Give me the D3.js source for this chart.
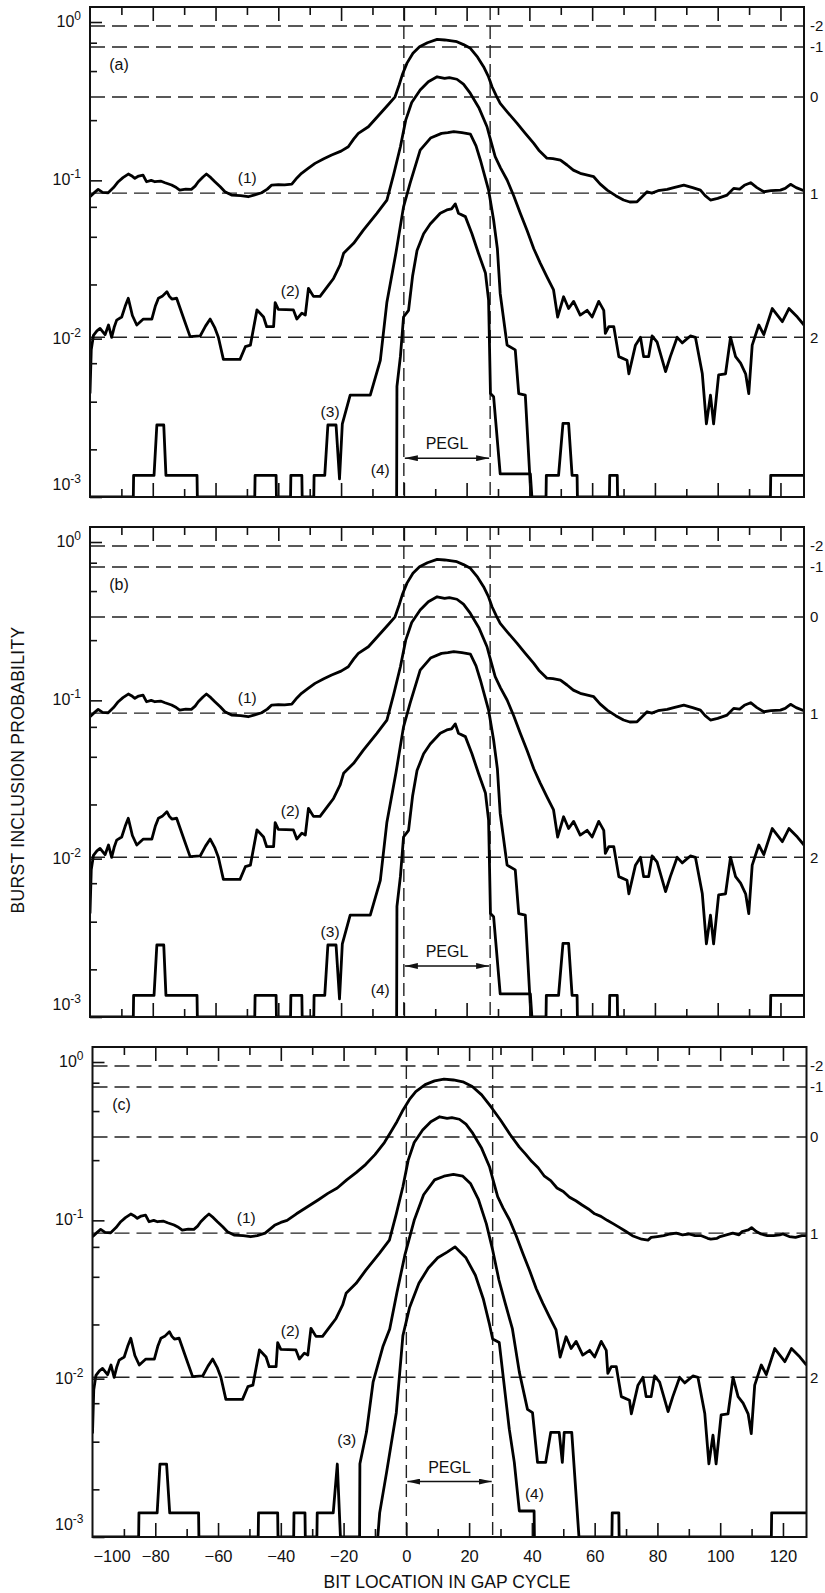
<!DOCTYPE html>
<html>
<head>
<meta charset="utf-8">
<script src="https://cdn.jsdelivr.net/npm/d3@7"></script>
<style>
  body { margin: 0; background: #fff; }
  text { font-family: "Liberation Sans", Arial, sans-serif; fill: #111; }
</style>
</head>
<body>
<svg id="chart"></svg>
<script>
// ---- data ----
const panelNames = ["(a)", "(b)", "(c)"];
const xTickLabels = [-100, -80, -60, -40, -20, 0, 20, 40, 60, 80, 100, 120];
const xMinorTicks = [-90, -70, -50, -30, -10, 10, 30, 50, 70, 90, 110];
const xMajorTicks = [-80, -60, -40, -20, 0, 20, 40, 60, 80, 100, 120];
const yDecades = [1, 0.1, 0.01, 0.001];
const yDecadeExp = ["0", "-1", "-2", "-3"];
const yMinorTicks = [0.74, 0.49, 0.24, 0.068, 0.044, 0.022, 0.007, 0.004, 0.002];
const levelValues = [0.944, 0.695, 0.336, 0.083, 0.0102];
const levelLabels = ["-2", "-1", "0", "1", "2"];
const peglBounds = [0, 27.5];
const peglLevel = [0.00176, 0.0021, 0.00224];

// curve (1), [bit location, probability]
const curve1 = [[-100,0.0788],[-98.8,0.083],[-97.4,0.0877],[-96,0.084],[-94.2,0.0835],[-92.5,0.09],[-91,0.098],[-89.5,0.104],[-87.8,0.1096],[-86.5,0.106],[-85.7,0.103],[-84.5,0.1065],[-83.1,0.108],[-82,0.098],[-80.5,0.1],[-79.3,0.098],[-77.5,0.099],[-76.1,0.0966],[-74,0.0934],[-72.5,0.09],[-71.4,0.0868],[-69.5,0.088],[-67.7,0.0877],[-66.5,0.092],[-65.5,0.098],[-64,0.105],[-62.9,0.1096],[-61.5,0.104],[-60.2,0.098],[-58.5,0.091],[-57,0.0847],[-54.9,0.0807],[-52,0.08],[-49.6,0.0788],[-47.5,0.081],[-45.3,0.0835],[-43.5,0.088],[-42.1,0.0934],[-40,0.094],[-38,0.0935],[-35.7,0.0947],[-34,0.104],[-32.6,0.1107],[-30.5,0.119],[-28.3,0.128],[-25.5,0.137],[-23,0.1445],[-20,0.153],[-17.7,0.163],[-16,0.182],[-14.5,0.198],[-11.3,0.218],[-9,0.245],[-7,0.271],[-5,0.3],[-2.8,0.337],[-1.5,0.4],[-0.4,0.47],[1,0.55],[2.9,0.634],[5,0.698],[7.5,0.74],[10.6,0.777],[13,0.77],[16.9,0.751],[19,0.72],[21.2,0.682],[23.5,0.6],[25.4,0.522],[27,0.45],[28.1,0.39],[29.5,0.34],[30.7,0.306],[33,0.27],[36.1,0.229],[38.5,0.2],[41.4,0.171],[43,0.155],[45.6,0.138],[47.5,0.137],[49.9,0.134],[52,0.125],[54,0.116],[56.2,0.1107],[58.5,0.108],[60.5,0.1054],[62.5,0.095],[64.8,0.0868],[67.5,0.08],[70,0.0751],[72,0.073],[74.3,0.0732],[76,0.079],[77.5,0.0847],[79,0.083],[81,0.086],[83.9,0.0877],[86,0.09],[89.2,0.0934],[92,0.09],[94.5,0.0868],[96,0.08],[97.7,0.0751],[100,0.077],[103,0.0807],[105.1,0.089],[107,0.088],[108.5,0.093],[110.5,0.0966],[112.5,0.09],[114.7,0.0847],[117,0.086],[120,0.0868],[121.5,0.089],[123.2,0.0944],[125,0.09],[127.5,0.086]];

// curve (1), panel (c): broader shoulders
const curve1c = [[-100,0.0788],[-98.8,0.083],[-97.4,0.0877],[-96,0.084],[-94.2,0.0835],[-92.5,0.09],[-91,0.098],[-89.5,0.104],[-87.8,0.1096],[-86.5,0.106],[-85.7,0.103],[-84.5,0.1065],[-83.1,0.108],[-82,0.098],[-80.5,0.1],[-79.3,0.098],[-77.5,0.099],[-76.1,0.0966],[-74,0.0934],[-72.5,0.09],[-71.4,0.0868],[-69.5,0.088],[-67.7,0.0877],[-66.5,0.092],[-65.5,0.098],[-64,0.105],[-62.9,0.1096],[-61.5,0.104],[-60.2,0.098],[-58.5,0.091],[-57,0.0847],[-54.9,0.0807],[-52,0.08],[-49.6,0.0788],[-47.5,0.08],[-45,0.083],[-42,0.093],[-40,0.097],[-38,0.1],[-35,0.11],[-32,0.12],[-28,0.135],[-25,0.148],[-22,0.16],[-19,0.18],[-16,0.2],[-13,0.225],[-10,0.26],[-7,0.31],[-5,0.36],[-3,0.42],[-1,0.5],[1,0.58],[3,0.65],[6,0.72],[9,0.76],[12,0.78],[15,0.77],[18,0.75],[21,0.7],[24,0.62],[27,0.52],[30,0.43],[33,0.35],[36,0.29],[38,0.262],[40,0.235],[42,0.215],[44,0.19],[46,0.178],[48,0.16],[50,0.152],[52,0.14],[54,0.133],[56,0.125],[58,0.118],[60,0.11],[62,0.106],[64,0.1],[66,0.095],[68,0.09],[70,0.085],[72,0.08],[75,0.076],[77,0.075],[78,0.078],[80,0.079],[82,0.08],[84,0.082],[86,0.083],[88,0.081],[90,0.082],[92,0.08],[94,0.08],[96,0.077],[97,0.076],[99,0.077],[100,0.079],[102,0.081],[104,0.083],[106,0.081],[107,0.085],[109,0.087],[110,0.09],[111.5,0.085],[113,0.082],[115,0.08],[117,0.08],[119,0.081],[120,0.082],[122,0.079],[124,0.078],[126,0.08],[127.5,0.08]];

// curve (2)
const curve2 = [[-100,0.0045],[-99.6,0.0085],[-98.9,0.0105],[-97.8,0.0112],[-96.8,0.0116],[-95.2,0.0106],[-94.1,0.0122],[-93.1,0.0102],[-92.3,0.0118],[-91.5,0.0131],[-89.9,0.0137],[-88.8,0.016],[-87.8,0.018],[-86.5,0.014],[-85.1,0.0122],[-83,0.0133],[-80.3,0.0133],[-79.2,0.016],[-78.2,0.018],[-77,0.0185],[-75.5,0.0198],[-74.7,0.0185],[-73.9,0.0178],[-72.4,0.018],[-70.2,0.0135],[-68.1,0.0103],[-64.9,0.0104],[-63.2,0.012],[-61.7,0.0133],[-60.3,0.0118],[-59.1,0.0102],[-57.5,0.0074],[-52.2,0.0074],[-50.5,0.0089],[-48.9,0.0091],[-46.8,0.0152],[-44.7,0.0137],[-43.7,0.0119],[-41.5,0.0119],[-41,0.0169],[-40,0.0153],[-35.2,0.0152],[-34.1,0.0133],[-32.5,0.0145],[-31.4,0.0141],[-30.4,0.0208],[-28.8,0.0185],[-26.7,0.0185],[-24,0.0218],[-22.4,0.024],[-20.3,0.0292],[-19.2,0.0346],[-16,0.04],[-12.9,0.0485],[-8.6,0.0619],[-5.4,0.075],[-3.2,0.11],[-1.1,0.163],[0.6,0.24],[2.5,0.31],[5.2,0.372],[7.8,0.42],[10.6,0.451],[13,0.44],[14.5,0.445],[16.9,0.435],[19,0.405],[21.2,0.354],[24,0.285],[26.5,0.218],[27.8,0.175],[29.1,0.141],[30.8,0.12],[32.9,0.1005],[35,0.08],[37.1,0.0619],[39.3,0.048],[41.4,0.037],[43.5,0.0299],[45.6,0.0246],[47.7,0.0203],[49,0.0137],[50.9,0.0184],[52.5,0.0155],[54.1,0.0172],[56.2,0.0141],[58.4,0.0151],[60,0.0137],[62.1,0.0172],[63.7,0.0151],[64.2,0.0108],[65.3,0.0119],[66.9,0.0119],[68.5,0.0077],[71.1,0.0073],[71.7,0.006],[73.8,0.0091],[75.4,0.0102],[76.4,0.0077],[78,0.0077],[79.1,0.0104],[80.7,0.0095],[83.4,0.0062],[84.9,0.0077],[87.1,0.0102],[88.7,0.0094],[91.3,0.0104],[92.9,0.0102],[95.1,0.006],[96.4,0.0029],[97.7,0.0044],[98.7,0.0029],[100.3,0.0059],[102.5,0.006],[104.1,0.0102],[105.7,0.0077],[107.3,0.007],[108.9,0.006],[109.9,0.0045],[111,0.0091],[113.1,0.0122],[114.7,0.0106],[117.4,0.0155],[119,0.0141],[120.6,0.0128],[122.7,0.0155],[125.4,0.0137],[127.5,0.0122]];

// curve (3), panels (a) and (b); 0 = no count (drawn on the axis)
const curve3ab = [[-100,0],[-86.2,0],[-86.1,0.00137],[-79.6,0.00137],[-78.7,0.00285],[-76.5,0.00285],[-75.8,0.00137],[-65.9,0.00137],[-65.8,0],[-47.5,0],[-47.4,0.00137],[-40.7,0.00137],[-40.6,0],[-36.1,0],[-36,0.00137],[-32.5,0.00137],[-32.4,0],[-28.7,0],[-28.6,0.00137],[-25.2,0.00137],[-24.2,0.00285],[-21.6,0.00285],[-20.5,0.0013],[-19.6,0.0029],[-17.1,0.0044],[-10.7,0.0044],[-7.5,0.0073],[-5.4,0.017],[-2.5,0.035],[-0.1,0.068],[2,0.096],[5.2,0.155],[8.5,0.185],[12,0.198],[14,0.2],[15.9,0.203],[18.5,0.2],[21.2,0.196],[23,0.165],[24.4,0.134],[27,0.0868],[28.6,0.0562],[29.8,0.037],[30.7,0.0193],[32.9,0.0091],[35.5,0.0085],[36.6,0.0045],[38.7,0.0044],[40.5,0],[45.3,0],[45.4,0.00137],[49.3,0.00137],[50.7,0.00292],[52.5,0.00292],[53.6,0.00137],[55.2,0.00137],[55.3,0],[65.5,0],[65.6,0.00137],[68,0.00137],[68.1,0],[116.8,0],[116.9,0.00137],[127.5,0.00137]];

// curve (4), panels (a) and (b)
const curve4ab = [[-2.3,0],[-2.2,0.005],[-1.1,0.0077],[-0.1,0.0137],[1.5,0.0151],[2.8,0.025],[4.2,0.036],[6.3,0.046],[8.4,0.053],[11.6,0.062],[13.7,0.065],[15.2,0.066],[16.4,0.071],[17.4,0.062],[19.6,0.059],[21.7,0.046],[23.8,0.0345],[26,0.026],[27,0.0175],[27.6,0.0045],[28.6,0.0043],[30.7,0.0014],[40.3,0.0014],[40.8,0]];

// curve (3), panel (c)
const curve3c = [[-100,0],[-85.3,0],[-85.2,0.00142],[-79.4,0.00142],[-78.5,0.00289],[-76.4,0.00289],[-75.4,0.00142],[-66.2,0.00142],[-66.1,0],[-47.2,0],[-47.1,0.00142],[-41,0.00142],[-40.9,0],[-35.9,0],[-35.8,0.00142],[-32.3,0.00142],[-32.2,0],[-28.5,0],[-28.4,0.00142],[-23.3,0.00142],[-22,0.00289],[-21,0],[-14.9,0],[-14.8,0.0029],[-12.7,0.0046],[-10.6,0.0095],[-7.4,0.0161],[-5.3,0.0206],[-3,0.035],[-0.5,0.06],[2.5,0.1],[5.5,0.145],[9,0.18],[12,0.19],[15,0.195],[18,0.19],[20.5,0.17],[23,0.135],[25.5,0.095],[27.5,0.065],[29.5,0.042],[31.5,0.03],[33.8,0.0206],[36,0.011],[38.6,0.0064],[40.2,0.0061],[41.8,0.00296],[44.4,0.00296],[46,0.00458],[48.7,0.00458],[49.7,0.00296],[50.3,0.00458],[52.7,0.00458],[55,0],[65.5,0],[65.6,0.00142],[67.7,0.00142],[67.8,0],[116.3,0],[116.4,0.00142],[127.5,0.00142]];

// curve (4), panel (c)
const curve4c = [[-9.1,0],[-8.5,0.00142],[-6.3,0.00256],[-3.2,0.0061],[-1.1,0.0187],[1,0.028],[4,0.04],[7,0.05],[10,0.058],[13,0.063],[15.5,0.068],[16.5,0.065],[19,0.058],[22,0.045],[24.5,0.032],[26.5,0.022],[27.5,0.0178],[29.6,0.0169],[32.8,0.0048],[34.4,0.00296],[36,0.00146],[40.7,0.00146],[40.8,0]];

const panelCurves = [
  [curve1, curve2, curve3ab, curve4ab],
  [curve1, curve2, curve3ab, curve4ab],
  [curve1c, curve2, curve3c, curve4c]
];
const curveNames = ["(1)", "(2)", "(3)", "(4)"];
// label anchor points [bit location, probability]
const labelsAB = [[-49.9,0.1034],[-36.2,0.0201],[-23.5,0.00345],[-7.5,0.00148]];
const labelsC = [[-51,0.1034],[-37,0.0201],[-19,0.00415],[40.8,0.00187]];
const panelLabelPos = [labelsAB, labelsAB, labelsC];

// ---- layout ----
const W = 825, H = 1593;
const panelTop = [7, 527, 1047];
const panelLeft = [90, 90, 92.5];
const panelW = 714, panelH = 490;

const svg = d3.select("#chart").attr("width", W).attr("height", H);

const defs = svg.append("defs");
defs.append("marker")
    .attr("id", "arrow")
    .attr("viewBox", "0 0 13 6")
    .attr("refX", 13).attr("refY", 3)
    .attr("markerWidth", 13).attr("markerHeight", 6)
    .attr("markerUnits", "userSpaceOnUse")
    .attr("orient", "auto-start-reverse")
  .append("path")
    .attr("d", "M0,0 L13,3 L0,6 Z")
    .attr("fill", "#111");

panelNames.forEach((name, i) => drawPanel(i));

function drawPanel(i) {
  const top = panelTop[i], left = panelLeft[i];
  const right = left + panelW, bottom = top + panelH;

  const x = d3.scaleLinear().domain([-100, 127.5]).range([left, right]);
  const y = d3.scaleLog().domain([1e-3, 1.244]).range([bottom, top]);

  const g = svg.append("g").attr("class", "panel");

  defs.append("clipPath").attr("id", "clip" + i)
    .append("rect").attr("x", left).attr("y", top)
    .attr("width", panelW).attr("height", panelH);

  // horizontal threshold lines
  g.selectAll(".level")
    .data(levelValues)
    .enter().append("line")
      .attr("x1", left).attr("x2", right)
      .attr("y1", d => y(d)).attr("y2", d => y(d))
      .attr("stroke", "#222").attr("stroke-width", 1.4)
      .attr("stroke-dasharray", "15,7");

  g.selectAll(".levelLabel")
    .data(levelValues)
    .enter().append("text")
      .attr("x", Math.min(right + 7, 810))
      .attr("y", d => y(d))
      .attr("dy", "0.36em")
      .style("font-size", "15px")
      .text((d, k) => levelLabels[k]);

  // PEGL boundaries
  g.selectAll(".pegl")
    .data(peglBounds)
    .enter().append("line")
      .attr("x1", d => x(d)).attr("x2", d => x(d))
      .attr("y1", top).attr("y2", bottom)
      .attr("stroke", "#222").attr("stroke-width", 1.4)
      .attr("stroke-dasharray", "13,6");

  const ay = y(peglLevel[i]);
  g.append("line")
    .attr("x1", x(peglBounds[0]) + 1).attr("x2", x(peglBounds[1]) - 1)
    .attr("y1", ay).attr("y2", ay)
    .attr("stroke", "#111").attr("stroke-width", 1.5)
    .attr("marker-start", "url(#arrow)")
    .attr("marker-end", "url(#arrow)");
  g.append("text")
    .attr("x", (x(peglBounds[0]) + x(peglBounds[1])) / 2)
    .attr("y", ay - 9)
    .attr("text-anchor", "middle")
    .style("font-size", "16px")
    .text("PEGL");

  // curves
  const line = d3.line()
      .x(d => x(d[0]))
      .y(d => y(Math.max(d[1], 1e-3)));

  g.append("g").attr("clip-path", `url(#clip${i})`)
    .selectAll("path")
    .data(panelCurves[i])
    .enter().append("path")
      .attr("d", line)
      .attr("fill", "none")
      .attr("stroke", "#000")
      .attr("stroke-width", 2.8)
      .attr("stroke-linejoin", "round");

  g.selectAll(".curveLabel")
    .data(panelLabelPos[i])
    .enter().append("text")
      .attr("x", d => x(d[0]))
      .attr("y", d => y(d[1]))
      .attr("dy", "0.35em")
      .attr("text-anchor", "middle")
      .style("font-size", "15.5px")
      .text((d, k) => curveNames[k]);

  g.append("text")
    .attr("x", left + 29).attr("y", top + 57)
    .attr("dy", "0.35em")
    .attr("text-anchor", "middle")
    .style("font-size", "16px")
    .text(panelNames[i]);

  // ticks: top and bottom, inward
  const tickStyle = sel => {
    sel.select(".domain").remove();
    sel.selectAll(".tick line").attr("stroke", "#111").attr("stroke-width", 1.6);
    sel.selectAll(".tick text").remove();
  };
  g.append("g").attr("transform", `translate(0,${top})`)
    .call(d3.axisBottom(x).tickValues(xMajorTicks).tickSize(14)).call(tickStyle);
  g.append("g").attr("transform", `translate(0,${top})`)
    .call(d3.axisBottom(x).tickValues(xMinorTicks).tickSize(8)).call(tickStyle);
  g.append("g").attr("transform", `translate(0,${bottom})`)
    .call(d3.axisTop(x).tickValues(xMajorTicks).tickSize(14)).call(tickStyle);
  g.append("g").attr("transform", `translate(0,${bottom})`)
    .call(d3.axisTop(x).tickValues(xMinorTicks).tickSize(8)).call(tickStyle);

  // left axis ticks, inward
  g.append("g").attr("transform", `translate(${left},0)`)
    .call(d3.axisRight(y).tickValues(yDecades).tickSize(12)).call(tickStyle);
  g.append("g").attr("transform", `translate(${left},0)`)
    .call(d3.axisRight(y).tickValues(yMinorTicks).tickSize(7)).call(tickStyle);

  // decade labels with superscripts
  const lab = g.selectAll(".decade")
    .data(yDecades)
    .enter().append("text")
      .attr("x", left - 9)
      .attr("y", (d, k) => y(d) + (k === yDecades.length - 1 ? -7 : 5))
      .attr("text-anchor", "end")
      .style("font-size", "16px");
  lab.append("tspan").text("10");
  lab.append("tspan")
    .attr("dy", -7)
    .style("font-size", "12px")
    .text((d, k) => yDecadeExp[k]);

  // frame
  g.append("rect")
    .attr("x", left).attr("y", top)
    .attr("width", panelW).attr("height", panelH)
    .attr("fill", "none")
    .attr("stroke", "#111").attr("stroke-width", 2);

  // bottom tick labels only under the last panel
  if (i === panelNames.length - 1) {
    const ax = g.append("g").attr("transform", `translate(0,${bottom})`)
      .call(d3.axisBottom(x).tickValues(xTickLabels).tickSize(0).tickPadding(13));
    ax.select(".domain").remove();
    ax.selectAll("text")
      .style("font-size", "16.5px")
      .style("font-family", "'Liberation Sans', Arial, sans-serif")
      .attr("fill", "#111")
      .attr("dx", d => d === -100 ? 19 : 0);

    svg.append("text")
      .attr("x", 447).attr("y", bottom + 51)
      .attr("text-anchor", "middle")
      .style("font-size", "17.5px")
      .text("BIT LOCATION IN GAP CYCLE");
  }
}

svg.append("text")
  .attr("transform", "translate(24,770) rotate(-90)")
  .attr("text-anchor", "middle")
  .style("font-size", "17.5px")
  .style("letter-spacing", "0.3px")
  .text("BURST INCLUSION PROBABILITY");
</script>
</body>
</html>
